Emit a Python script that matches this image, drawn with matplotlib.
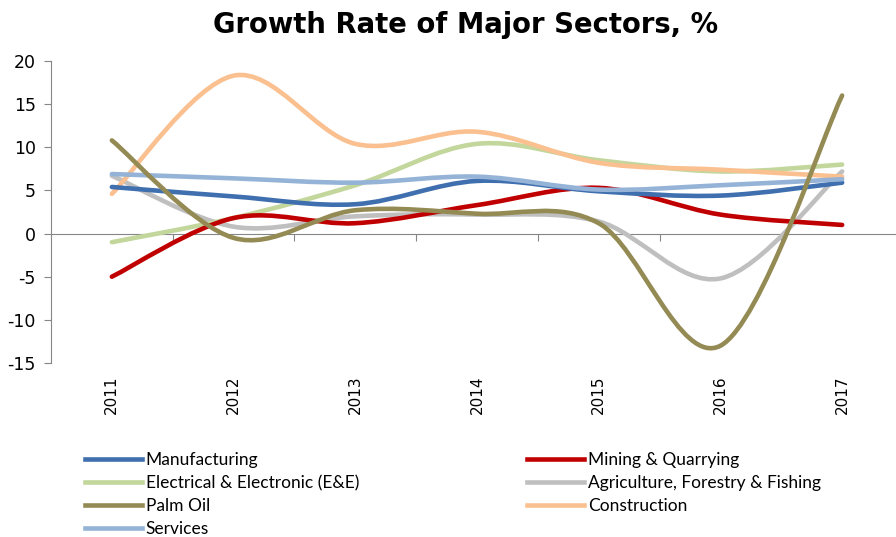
import matplotlib
matplotlib.use("Agg")
import matplotlib.pyplot as plt
from matplotlib.path import Path
from matplotlib.patches import PathPatch
from matplotlib.lines import Line2D

plt.rcParams["axes.unicode_minus"] = False

years = [2011, 2012, 2013, 2014, 2015, 2016, 2017]
year_labels = ["2011", "2012", "2013", "2014", "2015", "2016", "2017"]

manufacturing = [5.4, 4.3, 3.4, 6.1, 4.9, 4.4, 5.9]
mining = [-5.0, 1.8, 1.2, 3.3, 5.3, 2.2, 1.0]
electrical = [-1.0, 1.8, 5.6, 10.4, 8.5, 7.2, 8.0]
agriculture = [6.7, 0.8, 2.0, 2.2, 1.4, -5.2, 7.2]
palm_oil = [10.8, -0.5, 2.7, 2.3, 1.2, -13.0, 16.0]
construction = [4.6, 18.3, 10.4, 11.8, 8.2, 7.4, 6.6]
services = [6.9, 6.4, 5.9, 6.6, 5.1, 5.6, 6.3]

names = ["Manufacturing", "Mining & Quarrying", "Electrical & Electronic (E&E)",
         "Agriculture, Forestry & Fishing", "Palm Oil", "Construction", "Services"]
series = [manufacturing, mining, electrical, agriculture, palm_oil, construction, services]
colors = ["#3F6FAE", "#C00000", "#C3D69B", "#BFBFBF", "#948A54", "#FAC090", "#95B3D7"]
# drawing order (later on top)
order = [3, 2, 5, 1, 0, 6, 4]


def smooth_path(xs, ys):
    # Excel-like smoothed line: cubic bezier through the points
    n = len(xs)
    verts = [(xs[0], ys[0])]
    codes = [Path.MOVETO]
    for i in range(n - 1):
        i0 = max(i - 1, 0)
        i3 = min(i + 2, n - 1)
        c1 = (xs[i] + (xs[i + 1] - xs[i0]) / 6, ys[i] + (ys[i + 1] - ys[i0]) / 6)
        c2 = (xs[i + 1] - (xs[i3] - xs[i]) / 6, ys[i + 1] - (ys[i3] - ys[i]) / 6)
        verts += [c1, c2, (xs[i + 1], ys[i + 1])]
        codes += [Path.CURVE4] * 3
    return Path(verts, codes)


fig = plt.figure(figsize=(8.96, 5.37), dpi=100)
ax = fig.add_axes([51 / 896, 1 - 363 / 537, 852 / 896, 302 / 537])

for k in order:
    patch = PathPatch(smooth_path(years, series[k]), fill=False, edgecolor=colors[k],
                      linewidth=3.3, capstyle="round", joinstyle="round")
    ax.add_patch(patch)

ax.set_xlim(2010.5, 2017.5)
ax.set_ylim(-15, 20)
ax.set_yticks(range(-15, 21, 5))
ax.set_xticks(years)
ax.set_xticklabels(year_labels, rotation=90)
ax.tick_params(axis="x", length=0, pad=9, labelsize=11)
ax.tick_params(axis="y", length=5, color="#868686", labelsize=12.5, pad=6)

for s in ["top", "right", "bottom"]:
    ax.spines[s].set_visible(False)
ax.spines["left"].set_color("#868686")

sec = ax.secondary_xaxis(15 / 35)
sec.set_xticks([y + 0.5 for y in years[:-1]])
sec.set_xticklabels([])
sec.tick_params(length=5, color="#868686", direction="out")
sec.spines["bottom"].set_color("#868686")

ax.set_title("Growth Rate of Major Sectors, %", fontsize=19.8, fontweight="bold",
             pad=20, x=(466 - 51) / 852)

handles = [Line2D([], [], color=colors[k], lw=3.3) for k in range(7)]
legend_font = {"family": ["Lato", "DejaVu Sans"], "size": 12.5}
col1 = [0, 2, 4, 6]
col2 = [1, 3, 5]
leg1 = fig.legend([handles[k] for k in col1], [names[k] for k in col1],
                  loc="upper left", bbox_to_anchor=(85 / 896, 1 - 452 / 537),
                  frameon=False, handlelength=3.3, handletextpad=0.2,
                  labelspacing=0.4, borderpad=0, borderaxespad=0, prop=legend_font)
leg2 = fig.legend([handles[k] for k in col2], [names[k] for k in col2],
                  loc="upper left", bbox_to_anchor=(527 / 896, 1 - 452 / 537),
                  frameon=False, handlelength=3.3, handletextpad=0.2,
                  labelspacing=0.4, borderpad=0, borderaxespad=0, prop=legend_font)

fig.savefig("out.png")
